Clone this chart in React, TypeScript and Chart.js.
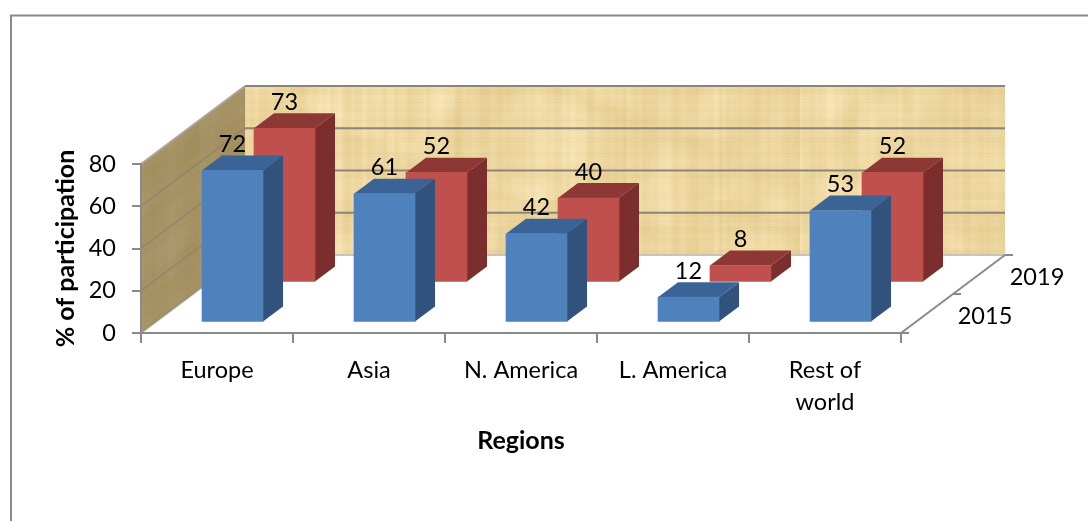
import React, { useEffect, useRef } from "react";
import { Chart, registerables } from "chart.js";

Chart.register(...registerables);

const regions = ["Europe", "Asia", "N. America", "L. America", ["Rest of", "world"]];
const years = ["2015", "2019"];
const values2015 = [72, 61, 42, 12, 53];
const values2019 = [73, 52, 40, 8, 52];
const percentTicks = [0, 20, 40, 60, 80];

const FONT = "Lato, sans-serif";
const TICK_SIZE = 23.5;
const TITLE_SIZE = 25;
const GREY = "#8a8a8a";
const WALL_LINE = "#8c8479";

// Oblique projection of the floor: how far the back wall sits from the front edge.
const DEPTH_X = 104;
const DEPTH_Y = 78;
// Each series is pushed back along that same direction.
const seriesShift = [
  { x: 15.5, y: -10.5 },
  { x: 67.5, y: -50.5 },
];
const BAR_DEPTH_X = 20;
const BAR_DEPTH_Y = 15;
const barShades = [
  { front: "#4f81bd", top: "#3a6396", side: "#30527d" },
  { front: "#c0504d", top: "#8e3836", side: "#7b2e2d" },
];

// Woven parchment tile built from a small integer hash, so it is the same on every load.
function hash(n: number) {
  const s = Math.sin(n * 12.9898) * 43758.5453;
  return s - Math.floor(s);
}

function smoothNoise(v: number, seed: number, cell: number) {
  const p = v / cell;
  const i = Math.floor(p);
  const f = p - i;
  const t = f * f * (3 - 2 * f);
  return hash(i + seed) * (1 - t) + hash(i + 1 + seed) * t;
}

function parchment(ctx: CanvasRenderingContext2D) {
  const w = 800;
  const h = 200;
  const tile = document.createElement("canvas");
  tile.width = w;
  tile.height = h;
  const c = tile.getContext("2d")!;
  const img = c.createImageData(w, h);
  for (let y = 0; y < h; y++) {
    for (let x = 0; x < w; x++) {
      const vertical =
        smoothNoise(x, 11, 13) * 0.5 + smoothNoise(x, 37, 4) * 0.5;
      const horizontal =
        smoothNoise(y, 71, 11) * 0.5 + smoothNoise(y, 93, 3) * 0.5;
      const patch =
        smoothNoise(x + y * 0.7, 131, 27) * smoothNoise(y - x * 0.4, 151, 19);
      const weave = (x % 3 === 0 ? -2 : 0) + (y % 3 === 0 ? -2 : 0);
      const d = (vertical - 0.5) * 18 + (horizontal - 0.5) * 10 + (patch - 0.25) * 12 + weave;
      const i = (x + y * w) * 4;
      img.data[i] = 238 + d * 0.75;
      img.data[i + 1] = 216 + d;
      img.data[i + 2] = 162 + d * 1.5;
      img.data[i + 3] = 255;
    }
  }
  c.putImageData(img, 0, 0);
  return ctx.createPattern(tile, "repeat")!;
}

function polygon(ctx: CanvasRenderingContext2D, pts: number[][]) {
  ctx.beginPath();
  pts.forEach(([x, y], i) => (i ? ctx.lineTo(x, y) : ctx.moveTo(x, y)));
  ctx.closePath();
}

function segment(ctx: CanvasRenderingContext2D, x1: number, y1: number, x2: number, y2: number) {
  ctx.beginPath();
  ctx.moveTo(x1, y1);
  ctx.lineTo(x2, y2);
  ctx.stroke();
}

// Page frame, textured walls, wall grid lines and the depth axis.
const wallsPlugin = {
  id: "walls",
  beforeDraw(chart: any) {
    const { ctx, width, height, chartArea, scales } = chart;
    const { left, right, bottom, top } = chartArea;
    const y0 = scales.y;
    const texture = parchment(ctx);
    ctx.save();

    ctx.fillStyle = "#ffffff";
    ctx.fillRect(0, 0, width, height);

    ctx.strokeStyle = GREY;
    ctx.lineWidth = 2;
    ctx.beginPath();
    ctx.moveTo(11, height);
    ctx.lineTo(11, 15.5);
    ctx.lineTo(width, 15.5);
    ctx.stroke();

    // Back wall
    ctx.fillStyle = texture;
    ctx.fillRect(left + DEPTH_X, top - DEPTH_Y, right - left, bottom - top);

    // Side wall: same texture sheared along the depth direction, then darkened
    ctx.save();
    polygon(ctx, [
      [left, bottom],
      [left + DEPTH_X, bottom - DEPTH_Y],
      [left + DEPTH_X, top - DEPTH_Y],
      [left, top],
    ]);
    ctx.clip();
    ctx.save();
    ctx.transform(1, -DEPTH_Y / DEPTH_X, 0, 1, left, top);
    ctx.fillStyle = texture;
    ctx.fillRect(0, -40, DEPTH_X, bottom - top + 80);
    ctx.restore();
    ctx.fillStyle = "rgba(86, 68, 32, 0.47)";
    ctx.fillRect(left, top - DEPTH_Y, DEPTH_X, bottom - top + DEPTH_Y);
    ctx.restore();

    // Grid lines along both walls
    percentTicks.forEach((v) => {
      const y = y0.getPixelForValue(v);
      ctx.lineWidth = 2;
      ctx.strokeStyle = v === 0 ? "#c8c4b8" : WALL_LINE;
      segment(ctx, left + DEPTH_X, y - DEPTH_Y, right + DEPTH_X, y - DEPTH_Y);
      ctx.strokeStyle = v === 80 ? "#a9a69f" : "rgba(135, 128, 112, 0.55)";
      segment(ctx, left, y, left + DEPTH_X, y - DEPTH_Y);
    });

    // Depth axis with its tick marks
    ctx.strokeStyle = GREY;
    ctx.lineWidth = 2;
    segment(ctx, right, bottom, right + DEPTH_X, bottom - DEPTH_Y);
    [0, 0.5, 1].forEach((f) => {
      const x = right + DEPTH_X * f;
      const y = bottom - DEPTH_Y * f;
      segment(ctx, x, y, x + 8, y);
    });
    ctx.restore();
  },
  // The faces behind each series are painted just before its fronts, inside the same shift.
  beforeDatasetDraw(chart: any, args: any) {
    const { ctx } = chart;
    const shift = seriesShift[args.index];
    const shade = barShades[args.index];
    ctx.save();
    ctx.translate(shift.x, shift.y);
    args.meta.data.forEach((bar: any) => {
      const l = bar.x - bar.width / 2;
      const r = bar.x + bar.width / 2;
      ctx.fillStyle = shade.side;
      polygon(ctx, [
        [r, bar.base],
        [r + BAR_DEPTH_X, bar.base - BAR_DEPTH_Y],
        [r + BAR_DEPTH_X, bar.y - BAR_DEPTH_Y],
        [r, bar.y],
      ]);
      ctx.fill();
      ctx.fillStyle = shade.top;
      polygon(ctx, [
        [l, bar.y],
        [l + BAR_DEPTH_X, bar.y - BAR_DEPTH_Y],
        [r + BAR_DEPTH_X, bar.y - BAR_DEPTH_Y],
        [r, bar.y],
      ]);
      ctx.fill();
    });
  },
  afterDatasetDraw(chart: any) {
    chart.ctx.restore();
  },
  // Value labels above the bars and the year names beside the depth axis.
  afterDatasetsDraw(chart: any) {
    const { ctx, chartArea } = chart;
    ctx.save();
    ctx.fillStyle = "#000000";
    ctx.font = `${TICK_SIZE}px ${FONT}`;
    ctx.textAlign = "center";
    ctx.textBaseline = "middle";
    [1, 0].forEach((ds) => {
      const shift = seriesShift[ds];
      const meta = chart.getDatasetMeta(ds);
      meta.data.forEach((bar: any, i: number) => {
        const v = chart.data.datasets[ds].data[i];
        ctx.fillText(String(v), bar.x + shift.x, bar.y + shift.y - BAR_DEPTH_Y - 11);
      });
    });
    years.forEach((year, i) => {
      const f = (i + 0.5) / years.length;
      ctx.fillText(
        year,
        chartArea.right + DEPTH_X * f + 58,
        chartArea.bottom - DEPTH_Y * f + 2.5,
      );
    });
    ctx.restore();
  },
};

export default function App() {
  const ref = useRef<HTMLCanvasElement | null>(null);

  useEffect(() => {
    const chart = new Chart(ref.current!, {
      type: "bar",
      data: {
        labels: regions,
        datasets: [
          { label: years[0], data: values2015, backgroundColor: barShades[0].front, clip: false, grouped: false, barThickness: 61 },
          { label: years[1], data: values2019, backgroundColor: barShades[1].front, clip: false, grouped: false, barThickness: 61 },
        ],
      } as any,
      options: {
        animation: false,
        responsive: false,
        events: [],
        layout: { padding: { left: 52, right: 187, top: 164, bottom: 66 } },
        plugins: { legend: { display: false }, tooltip: { enabled: false }, title: { display: false } },
        scales: {
          x: {
            afterFit: (s: any) => {
              s.height = 122;
            },
            border: { color: GREY, width: 2 },
            grid: { drawOnChartArea: false, drawTicks: true, tickLength: 10, color: GREY, lineWidth: 2, offset: true },
            ticks: {
              color: "#000",
              padding: 11,
              maxRotation: 0,
              autoSkip: false,
              font: { family: FONT, size: TICK_SIZE, lineHeight: 1.36 },
            },
            title: {
              display: true,
              text: "Regions",
              color: "#000",
              padding: 0,
              font: { family: FONT, size: TITLE_SIZE, weight: "bold", lineHeight: 1.1 },
            },
          },
          y: {
            min: 0,
            max: 80,
            afterFit: (s: any) => {
              s.width = 89;
            },
            afterBuildTicks: (s: any) => {
              s.ticks = percentTicks.map((value) => ({ value }));
            },
            border: { color: GREY, width: 2 },
            grid: { drawOnChartArea: false, drawTicks: true, tickLength: 9, color: GREY, lineWidth: 2 },
            ticks: {
              color: "#000",
              padding: 16,
              font: { family: FONT, size: TICK_SIZE },
            },
            title: {
              display: true,
              text: "% of participation",
              color: "#000",
              padding: 0,
              font: { family: FONT, size: TITLE_SIZE, weight: "bold", lineHeight: 1.1 },
            },
          },
        },
      },
      plugins: [wallsPlugin],
    } as any);
    return () => chart.destroy();
  }, []);

  return (
    <canvas
      ref={ref}
      width={1088}
      height={521}
      style={{ position: "fixed", left: 0, top: 0, display: "block" }}
    />
  );
}
